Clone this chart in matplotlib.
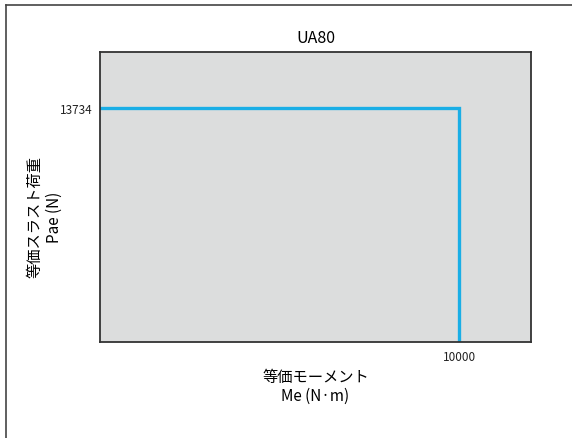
import matplotlib
matplotlib.use("Agg")
import matplotlib.pyplot as plt
from matplotlib.lines import Line2D

plt.rcParams['font.family'] = ['Noto Sans CJK JP', 'DejaVu Sans']

title = "UA80"
moment_max = 10000      # Me (N·m)
thrust_max = 13734      # Pae (N)
x_limit = [0, 12000]
y_limit = [0, 17000]
curve_x = [0, moment_max, moment_max]
curve_y = [thrust_max, thrust_max, 0]

fig = plt.figure(figsize=(5.72, 4.39), dpi=100)
ax = fig.add_axes([0.1748, 0.2187, 0.7535, 0.6606])
ax.set_facecolor('#dcdddd')
ax.plot(curve_x, curve_y, color='#1aaee6', lw=2.4, solid_joinstyle='miter')
ax.set_xlim(x_limit)
ax.set_ylim(y_limit)
ax.set_xticks([moment_max])
ax.set_yticks([thrust_max])
ax.tick_params(length=0, labelsize=8.5, colors='#222222')
ax.tick_params(axis='x', pad=6)
ax.tick_params(axis='y', pad=5)
for s in ax.spines.values():
    s.set_color('#333333')
    s.set_linewidth(1.3)

ax.set_title(title, fontsize=11.5, pad=7)
ax.set_xlabel("等価モーメント\nMe (N·m)", fontsize=11, linespacing=1.15)
ax.set_ylabel("等価スラスト荷重\nPae (N)", fontsize=11, linespacing=1.15)
ax.xaxis.set_label_coords(0.5, -0.152)
ax.yaxis.set_label_coords(-0.128, 0.434)
ax.xaxis.label.set_verticalalignment('center')
ax.yaxis.label.set_verticalalignment('center')

# clipped outer frame (only left and top edges visible)
fig.add_artist(Line2D([0.0105, 0.0105], [0, 0.9863], transform=fig.transFigure, color='#444444', lw=1.2))
fig.add_artist(Line2D([0.0105, 1], [0.9863, 0.9863], transform=fig.transFigure, color='#444444', lw=1.2))

fig.savefig("out.png", dpi=100)
